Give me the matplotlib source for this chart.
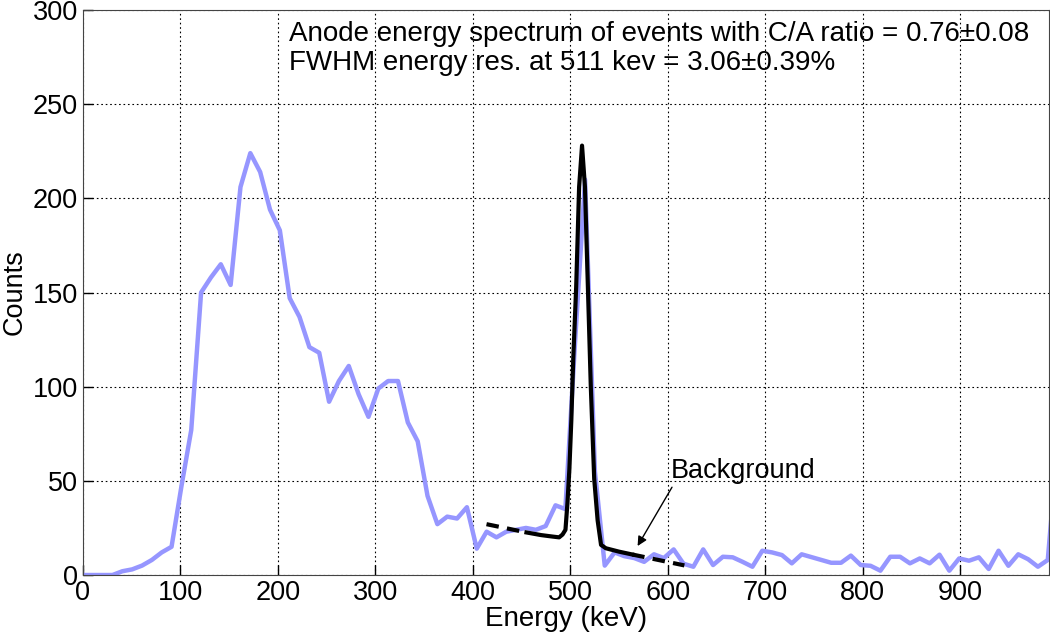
import matplotlib
matplotlib.use('Agg')
import matplotlib.pyplot as plt
import numpy as np

plt.rcParams['font.family'] = ['Liberation Sans', 'DejaVu Sans']

# Measured anode spectrum, bin step ~10.1 keV
bin_width = 10.1
counts = [0, 0, 0, 0, 2, 3, 5, 8, 12, 15,
          47, 77, 150, 158, 165, 154, 206, 224, 214, 194,
          183, 147, 137, 121, 118, 92, 103, 111, 96, 84,
          99, 103, 103, 81, 71, 42, 27, 31, 30, 36,
          14, 23, 20, 23, 24, 25, 24, 26, 37, 35,
          125, 210, 55, 5, 12, 10, 9, 7, 11, 9,
          13.6, 6, 4.4, 13.6, 5.3, 9.7, 9.4, 7, 4.4, 12.9,
          12, 10.6, 6.2, 11, 9.5, 8, 6.5, 6.5, 10.3, 5.3,
          4.9, 2.3, 9.7, 9.7, 6.2, 8.8, 6.2, 10.8, 2.3, 8.8,
          7.6, 9.4, 3.2, 12.9, 4.9, 11, 8.4, 4.4, 8, 70]
energy = np.arange(len(counts)) * bin_width

# Photopeak fit
fit_x = [455, 470, 482, 488.5, 492, 495, 497, 499, 501, 503, 506, 509, 512,
         515, 518, 521, 524.5, 528, 531.5, 536.5, 550, 563.5]
fit_y = [22.6, 21.2, 20.4, 20.0, 21.5, 24, 38, 56, 82, 115, 153, 206, 228,
         206, 153, 100, 51, 29, 16, 14.2, 12.4, 10.9]

# Background extension (dashed)
bg_left_x = [414, 455]
bg_left_y = [27.0, 22.6]
bg_right_x = [563.5, 617]
bg_right_y = [10.9, 5.1]

fig = plt.figure(figsize=(10.5, 6.37), dpi=100)
ax = fig.add_axes([0.079, 0.0973, 0.92, 0.887])

ax.plot(energy, counts, color='#9696ff', linewidth=3.2)
ax.plot(fit_x, fit_y, color='black', linewidth=3, solid_joinstyle='round')
ax.plot(bg_left_x, bg_left_y, color='black', linewidth=3, linestyle=(0, (3, 2)))
ax.plot(bg_right_x, bg_right_y, color='black', linewidth=3, linestyle=(0, (3, 2)))

ax.annotate('Background', xy=(569, 15.4), xytext=(603, 55),
            fontsize=19.5, va='center', ha='left',
            arrowprops=dict(arrowstyle='-|>', color='black', lw=1,
                            mutation_scale=14, shrinkA=0, shrinkB=0,
                            relpos=(0.02, 0.0)))

ax.text(0.213, 0.98, 'Anode energy spectrum of events with C/A ratio = 0.76\u00b10.08\n'
        'FWHM energy res. at 511 kev = 3.06\u00b10.39%',
        transform=ax.transAxes, fontsize=20, va='top', ha='left', linespacing=1.15)

ax.set_xlim(0, 991)
ax.set_ylim(0, 300)
ax.set_xticks(np.arange(0, 1000, 100))
ax.set_yticks(np.arange(0, 301, 50))
ax.tick_params(direction='in', length=7, labelsize=19.5, width=1)
ax.set_xlabel('Energy (keV)', fontsize=20, labelpad=0)
ax.set_ylabel('Counts', fontsize=19.5, labelpad=4)
ax.grid(True, color='black', linestyle=(0, (1.5, 2.5)), linewidth=0.8)
for s in ax.spines.values():
    s.set_color('#444444')

fig.savefig('out.png', dpi=100)
